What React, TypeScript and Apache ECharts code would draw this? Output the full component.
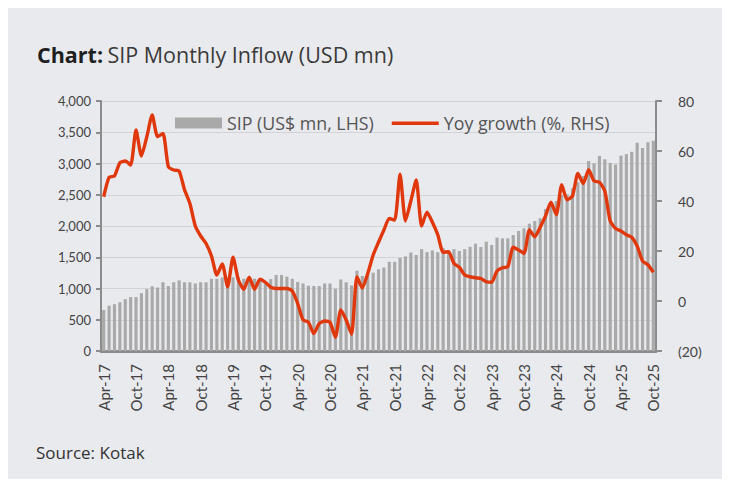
import React, { useEffect, useRef } from "react";
import * as echarts from "echarts";

const MONTHS = ["Jan", "Feb", "Mar", "Apr", "May", "Jun", "Jul", "Aug", "Sep", "Oct", "Nov", "Dec"];
// Monthly categories Apr-17 .. Oct-25
const categories: string[] = [];
for (let y = 17; y <= 25; y++) {
  for (let m = 0; m < 12; m++) {
    if (y === 17 && m < 3) continue;
    if (y === 25 && m > 9) continue;
    categories.push(`${MONTHS[m]}-${y}`);
  }
}

const sipUsdMn = [
  656, 725, 748, 780, 830, 862, 862, 925, 990, 1035, 1015, 1100,
  1040, 1100, 1130, 1100, 1100, 1080, 1100, 1100, 1155, 1155, 1176, 1180,
  1180, 1176, 1157, 1157, 1157, 1157, 1104, 1150, 1216, 1216, 1190, 1155,
  1105, 1080, 1045, 1040, 1040, 1080, 1080, 995, 1145, 1100, 1050, 1285,
  1200, 1232, 1253, 1307, 1336, 1427, 1427, 1490, 1515, 1576, 1536, 1630,
  1582, 1608, 1582, 1645, 1582, 1630, 1602, 1630, 1666, 1717, 1664, 1749,
  1696, 1813, 1803, 1803, 1856, 1920, 1963, 2037, 2080, 2123, 2272, 2336,
  2400, 2496, 2507, 2603, 2700, 2800, 3040, 3003, 3122, 3067, 3010, 2985,
  3125, 3150, 3187, 3333, 3250, 3340, 3365,
];

const yoyGrowthPct = [
  41.7, 49.5, 50, 55.3, 56, 54.4, 68.4, 58, 65.7, 74.4, 65.7, 67,
  53.7, 52.4, 52, 44.5, 39, 30, 26, 23, 18, 10.4, 14.8, 5.7,
  17.5, 8.4, 4.7, 9.5, 4.7, 8.7, 7.5, 5.5, 5, 5, 5, 4,
  -1, -7.6, -8.5, -13, -9, -8, -8.5, -14.5, -3.6, -7.6, -13.3, 9.7,
  5.2, 11, 18.3, 23.5, 28.4, 33, 32.4, 50.7, 32, 40, 48.4, 30,
  35.5, 31.5, 26.5, 19.5, 19.7, 15, 13.5, 10.4, 9.7, 9.3, 9, 7.7,
  7.5, 12, 13.3, 13.7, 21.5, 20.4, 19, 28.4, 25.7, 29.5, 34, 39.5,
  34.5, 46.5, 40.5, 42, 51, 47, 52.5, 48, 47.5, 44, 32, 29,
  28, 26.5, 25.5, 22, 16, 14.5, 11.5,
];

const AXIS_FONT = "Lato, 'Open Sans', sans-serif";
const TEXT_FONT = "'Open Sans', Lato, sans-serif";
const RED = "#e0380c";

export default function App() {
  const ref = useRef<HTMLDivElement>(null);
  useEffect(() => {
    if (!ref.current) return;
    const chart = echarts.init(ref.current, null, { renderer: "svg" });
    chart.setOption({
      animation: false,
      backgroundColor: "transparent",
      textStyle: { fontFamily: AXIS_FONT },
      title: {
        left: 27,
        top: 30,
        text: "{b|Chart:} {n|SIP Monthly Inflow (USD mn)}",
        textStyle: {
          rich: {
            b: { fontFamily: TEXT_FONT, fontSize: 21.5, fontWeight: "bold", color: "#1f1f1f" },
            n: { fontFamily: TEXT_FONT, fontSize: 21.5, fontWeight: "normal", color: "#3a3a3a" },
          },
        },
      },
      graphic: [
        {
          type: "text",
          left: 31,
          top: 436,
          style: { text: "Source: Kotak", fontFamily: TEXT_FONT, fontSize: 17, fill: "#333" },
        },
      ],
      legend: {
        left: 165,
        top: 101,
        itemWidth: 47,
        itemHeight: 11,
        itemGap: 18,
        textStyle: { fontFamily: TEXT_FONT, fontSize: 17.8, color: "#555" },
        data: [
          { name: "SIP (US$ mn, LHS)", icon: "rect" },
          {
            name: "Yoy growth (%, RHS)",
            icon: "path://M0,0H0.01V0.01H0Z M0,4H47V7.4H0Z M0,10.99H0.01V11H0Z",
          },
        ],
      },
      grid: { left: 96, right: 68, top: 93, bottom: 129, containLabel: false },
      xAxis: {
        type: "category",
        data: categories,
        boundaryGap: true,
        axisLine: { lineStyle: { color: "#8c8c8c", width: 3 } },
        axisTick: { show: false },
        axisLabel: {
          interval: 5,
          rotate: 90,
          fontFamily: AXIS_FONT,
          fontSize: 15,
          color: "#444",
          margin: 13,
        },
      },
      yAxis: [
        {
          type: "value",
          min: 0,
          max: 4000,
          interval: 500,
          axisLine: { show: true, lineStyle: { color: "#8c8c8c", width: 2 } },
          axisTick: { show: true, length: 5, lineStyle: { color: "#8c8c8c", width: 2 } },
          axisLabel: {
            fontFamily: AXIS_FONT,
            fontSize: 13,
            color: "#444",
            margin: 10,
            formatter: (v: number) => v.toLocaleString("en-US"),
          },
          splitLine: { show: true, lineStyle: { color: "#d2d3d8", width: 1 } },
        },
        {
          type: "value",
          min: -20,
          max: 80,
          interval: 20,
          position: "right",
          axisLine: { show: true, lineStyle: { color: "#8c8c8c", width: 2 } },
          axisTick: { show: true, length: 6, lineStyle: { color: "#8c8c8c", width: 2 } },
          axisLabel: {
            fontFamily: AXIS_FONT,
            fontSize: 14,
            color: "#444",
            margin: 22,
            formatter: (v: number) => (v < 0 ? `(${-v})` : `${v}`),
          },
          splitLine: { show: false },
        },
      ],
      series: [
        {
          name: "SIP (US$ mn, LHS)",
          type: "bar",
          data: sipUsdMn,
          barWidth: "58%",
          itemStyle: { color: "#a9a9a9" },
          yAxisIndex: 0,
        },
        {
          name: "Yoy growth (%, RHS)",
          type: "line",
          data: yoyGrowthPct,
          yAxisIndex: 1,
          symbol: "none",
          smooth: 0.2,
          lineStyle: { color: RED, width: 3.4 },
          itemStyle: { color: RED },
        },
      ],
    });
    return () => chart.dispose();
  }, []);

  return (
    <div style={{ width: 730, height: 487, background: "#fff", position: "relative", margin: -8 }}>
      <div
        style={{
          position: "absolute",
          left: 5,
          top: 8,
          width: 719,
          height: 472,
          background: "#e9eaee",
        }}
      >
        <div ref={ref} style={{ width: 719, height: 472 }} />
      </div>
    </div>
  );
}
